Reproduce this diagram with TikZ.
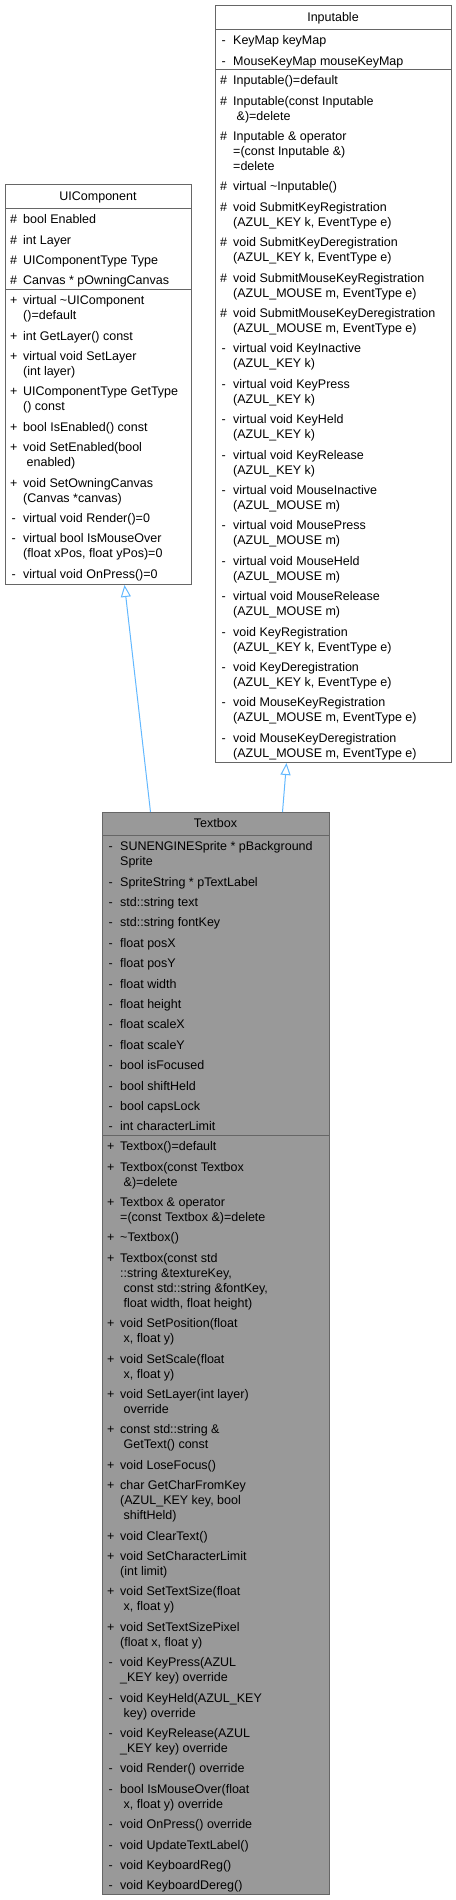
\documentclass[tikz,border=0pt]{standalone}
\usepackage{fontspec}
\setmainfont{Liberation Sans}
\usepackage{array}
\usetikzlibrary{arrows.meta}
\definecolor{classborder}{HTML}{666666}
\definecolor{classfill}{HTML}{999999}
\definecolor{edgeblue}{HTML}{63B8FF}
\newcolumntype{V}{@{}wc{8bp}@{\hspace{5.5bp}}l@{}}

\begin{document}
\begin{tikzpicture}[x=1bp, y=-1bp, font=\fontsize{12.5bp}{15bp}\selectfont]
		\tikzset{classbox/.style = {draw=classborder, line width=1bp, fill=white, inner sep=0pt, anchor=north west}}
		\tikzset{classtitle/.style = {anchor=base, inner sep=0pt}}
		\tikzset{members/.style = {anchor=north west, inner sep=0pt}}
		\tikzset{sepline/.style = {draw=classborder, line width=1bp}}
		\tikzset{inherit/.style = {draw=edgeblue, line width=1bp, -{Triangle[open, length=12bp, width=10bp]}}}

		\useasboundingbox (0,0) rectangle (456,1900);

		% Inputable
		\node[classbox, minimum width=236bp, minimum height=757bp] (Inputable) at (215,5) {};
		\draw[sepline] (Inputable.west |- 0,29) -- (Inputable.east |- 0,29);
		\draw[sepline] (Inputable.west |- 0,69) -- (Inputable.east |- 0,69);
		\node[classtitle] (Inputable_title) at (333,21.5) {Inputable};
		\node[members] (Inputable_attr) at (219.5,34) {\begin{tabular}{V}
			- & KeyMap keyMap\\[5.4bp]
			- & MouseKeyMap mouseKeyMap
		\end{tabular}};
		\node[members] (Inputable_ops) at (219.5,74) {\begin{tabular}{V}
			\# & Inputable()=default\\[5.4bp]
			\# & Inputable(const Inputable\\ & \ \&)=delete\\[5.4bp]
			\# & Inputable \& operator\\ & =(const Inputable \&)\\ & =delete\\[5.4bp]
			\# & virtual \textasciitilde Inputable()\\[5.4bp]
			\# & void SubmitKeyRegistration\\ & (AZUL\_KEY k, EventType e)\\[5.4bp]
			\# & void SubmitKeyDeregistration\\ & (AZUL\_KEY k, EventType e)\\[5.4bp]
			\# & void SubmitMouseKeyRegistration\\ & (AZUL\_MOUSE m, EventType e)\\[5.4bp]
			\# & void SubmitMouseKeyDeregistration\\ & (AZUL\_MOUSE m, EventType e)\\[5.4bp]
			- & virtual void KeyInactive\\ & (AZUL\_KEY k)\\[5.4bp]
			- & virtual void KeyPress\\ & (AZUL\_KEY k)\\[5.4bp]
			- & virtual void KeyHeld\\ & (AZUL\_KEY k)\\[5.4bp]
			- & virtual void KeyRelease\\ & (AZUL\_KEY k)\\[5.4bp]
			- & virtual void MouseInactive\\ & (AZUL\_MOUSE m)\\[5.4bp]
			- & virtual void MousePress\\ & (AZUL\_MOUSE m)\\[5.4bp]
			- & virtual void MouseHeld\\ & (AZUL\_MOUSE m)\\[5.4bp]
			- & virtual void MouseRelease\\ & (AZUL\_MOUSE m)\\[5.4bp]
			- & void KeyRegistration\\ & (AZUL\_KEY k, EventType e)\\[5.4bp]
			- & void KeyDeregistration\\ & (AZUL\_KEY k, EventType e)\\[5.4bp]
			- & void MouseKeyRegistration\\ & (AZUL\_MOUSE m, EventType e)\\[5.4bp]
			- & void MouseKeyDeregistration\\ & (AZUL\_MOUSE m, EventType e)
		\end{tabular}};

		% UIComponent
		\node[classbox, minimum width=186bp, minimum height=400bp] (UIComponent) at (5,184) {};
		\draw[sepline] (UIComponent.west |- 0,208) -- (UIComponent.east |- 0,208);
		\draw[sepline] (UIComponent.west |- 0,289) -- (UIComponent.east |- 0,289);
		\node[classtitle] (UIComponent_title) at (98,200.5) {UIComponent};
		\node[members] (UIComponent_attr) at (9.5,213) {\begin{tabular}{V}
			\# & bool Enabled\\[5.4bp]
			\# & int Layer\\[5.4bp]
			\# & UIComponentType Type\\[5.4bp]
			\# & Canvas * pOwningCanvas
		\end{tabular}};
		\node[members] (UIComponent_ops) at (9.5,294) {\begin{tabular}{V}
			+ & virtual \textasciitilde UIComponent\\ & ()=default\\[5.4bp]
			+ & int GetLayer() const\\[5.4bp]
			+ & virtual void SetLayer\\ & (int layer)\\[5.4bp]
			+ & UIComponentType GetType\\ & () const\\[5.4bp]
			+ & bool IsEnabled() const\\[5.4bp]
			+ & void SetEnabled(bool\\ & \ enabled)\\[5.4bp]
			+ & void SetOwningCanvas\\ & (Canvas *canvas)\\[5.4bp]
			- & virtual void Render()=0\\[5.4bp]
			- & virtual bool IsMouseOver\\ & (float xPos, float yPos)=0\\[5.4bp]
			- & virtual void OnPress()=0
		\end{tabular}};

		% Textbox
		\node[classbox, fill=classfill, minimum width=227bp, minimum height=1082bp] (Textbox) at (102,812) {};
		\draw[sepline] (Textbox.west |- 0,835) -- (Textbox.east |- 0,835);
		\draw[sepline] (Textbox.west |- 0,1135) -- (Textbox.east |- 0,1135);
		\node[classtitle] (Textbox_title) at (215.5,827.5) {Textbox};
		\node[members] (Textbox_attr) at (106.5,840) {\begin{tabular}{V}
			- & SUNENGINESprite * pBackground\\ & Sprite\\[5.4bp]
			- & SpriteString * pTextLabel\\[5.4bp]
			- & std::string text\\[5.4bp]
			- & std::string fontKey\\[5.4bp]
			- & float posX\\[5.4bp]
			- & float posY\\[5.4bp]
			- & float width\\[5.4bp]
			- & float height\\[5.4bp]
			- & float scaleX\\[5.4bp]
			- & float scaleY\\[5.4bp]
			- & bool isFocused\\[5.4bp]
			- & bool shiftHeld\\[5.4bp]
			- & bool capsLock\\[5.4bp]
			- & int characterLimit
		\end{tabular}};
		\node[members] (Textbox_ops) at (106.5,1140) {\begin{tabular}{V}
			+ & Textbox()=default\\[5.4bp]
			+ & Textbox(const Textbox\\ & \ \&)=delete\\[5.4bp]
			+ & Textbox \& operator\\ & =(const Textbox \&)=delete\\[5.4bp]
			+ & \textasciitilde Textbox()\\[5.4bp]
			+ & Textbox(const std\\ & ::string \&textureKey,\\ & \ const std::string \&fontKey,\\ & \ float width, float height)\\[5.4bp]
			+ & void SetPosition(float\\ & \ x, float y)\\[5.4bp]
			+ & void SetScale(float\\ & \ x, float y)\\[5.4bp]
			+ & void SetLayer(int layer)\\ & \ override\\[5.4bp]
			+ & const std::string \&\\ & \ GetText() const\\[5.4bp]
			+ & void LoseFocus()\\[5.4bp]
			+ & char GetCharFromKey\\ & (AZUL\_KEY key, bool\\ & \ shiftHeld)\\[5.4bp]
			+ & void ClearText()\\[5.4bp]
			+ & void SetCharacterLimit\\ & (int limit)\\[5.4bp]
			+ & void SetTextSize(float\\ & \ x, float y)\\[5.4bp]
			+ & void SetTextSizePixel\\ & (float x, float y)\\[5.4bp]
			- & void KeyPress(AZUL\\ & \_KEY key) override\\[5.4bp]
			- & void KeyHeld(AZUL\_KEY\\ & \ key) override\\[5.4bp]
			- & void KeyRelease(AZUL\\ & \_KEY key) override\\[5.4bp]
			- & void Render() override\\[5.4bp]
			- & bool IsMouseOver(float\\ & \ x, float y) override\\[5.4bp]
			- & void OnPress() override\\[5.4bp]
			- & void UpdateTextLabel()\\[5.4bp]
			- & void KeyboardReg()\\[5.4bp]
			- & void KeyboardDereg()
		\end{tabular}};

		\draw[inherit] ([xshift=-65.5bp]Textbox.north) -- ([xshift=26bp]UIComponent.south);
		\draw[inherit] ([xshift=66.5bp]Textbox.north) -- ([xshift=-47bp]Inputable.south);

	\end{tikzpicture}
\end{document}
